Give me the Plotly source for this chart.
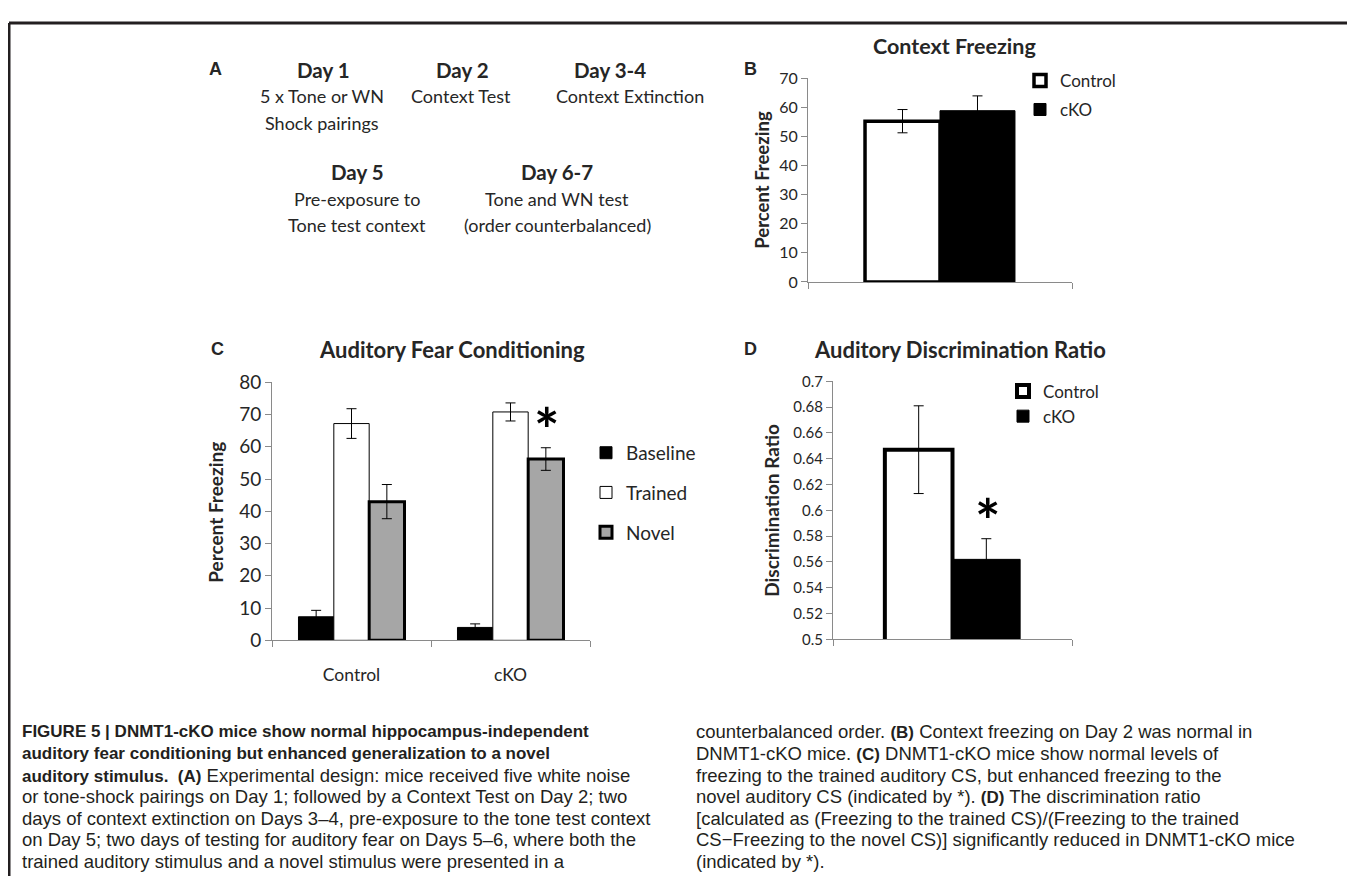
import plotly.graph_objects as go

# Page is 1355x895; the browser adds an 8px body margin, so the figure is sized to fit exactly.
PW, PH = 1355, 895
M = 8
FW, FH = PW - M, PH - 2 * M

# ---------------- data ----------------
# Panel B: Context Freezing
b_groups = ["Control", "cKO"]
b_values = [55.3, 58.9]
b_errors = [4.0, 5.1]

# Panel C: Auditory Fear Conditioning
c_categories = ["Control", "cKO"]
c_series = ["Baseline", "Trained", "Novel"]
c_baseline = [7.3, 4.0]
c_baseline_err = [2.0, 1.1]
c_trained = [67.2, 70.8]
c_trained_err = [4.6, 2.8]
c_novel = [43.0, 56.2]
c_novel_err = [5.3, 3.5]

# Panel D: Auditory Discrimination Ratio
d_groups = ["Control", "cKO"]
d_values = [0.647, 0.562]
d_errors = [0.034, 0.016]

# Panel A: experimental design text
a_blocks = [
    ("Day 1", ["5 x Tone or WN", "Shock pairings"]),
    ("Day 2", ["Context Test"]),
    ("Day 3-4", ["Context Extinction"]),
    ("Day 5", ["Pre-exposure to", "Tone test context"]),
    ("Day 6-7", ["Tone and WN test", "(order counterbalanced)"]),
]

caption_left = [
    "<b>FIGURE 5 | DNMT1-cKO mice show normal hippocampus-independent</b>",
    "<b>auditory fear conditioning but enhanced generalization to a novel</b>",
    "<b>auditory stimulus.  (A)</b> Experimental design: mice received five white noise",
    "or tone-shock pairings on Day 1; followed by a Context Test on Day 2; two",
    "days of context extinction on Days 3–4, pre-exposure to the tone test context",
    "on Day 5; two days of testing for auditory fear on Days 5–6, where both the",
    "trained auditory stimulus and a novel stimulus were presented in a",
]
caption_right = [
    "counterbalanced order. <b>(B)</b> Context freezing on Day 2 was normal in",
    "DNMT1-cKO mice. <b>(C)</b> DNMT1-cKO mice show normal levels of",
    "freezing to the trained auditory CS, but enhanced freezing to the",
    "novel auditory CS (indicated by *). <b>(D)</b> The discrimination ratio",
    "[calculated as (Freezing to the trained CS)/(Freezing to the trained",
    "CS\u2212Freezing to the novel CS)] significantly reduced in DNMT1-cKO mice",
    "(indicated by *).",
]


# ---------------- helpers (page pixel -> paper fraction) ----------------
def px(x):
    return (x - M) / FW


def py(y):
    return 1 - (y - M) / FH


CAL = "Lato, Carlito, 'Open Sans', sans-serif"
CAP = "'Liberation Sans', Arial, sans-serif"
LETTER = "'Liberation Sans', Arial, sans-serif"
AX = "#8a8a8a"
TXT = "#262626"

fig = go.Figure()

# ---------------- Panel B bars ----------------
b_styles = [
    dict(color="white", line=dict(color="black", width=3.5)),
    dict(color="black", line=dict(color="black", width=1)),
]
bw = 0.284
for i, g in enumerate(b_groups):
    fig.add_trace(go.Bar(
        x=["Context"], y=[b_values[i]], name=g,
        marker=b_styles[i], width=bw, offset=-bw if i == 0 else 0,
        error_y=dict(type="data", array=[b_errors[i]], color="black", thickness=1, width=5),
        xaxis="x", yaxis="y", legend="legend", legendgroup="b" + g,
    ))

# ---------------- Panel C bars ----------------
c_vals = [c_baseline, c_trained, c_novel]
c_errs = [c_baseline_err, c_trained_err, c_novel_err]
c_styles = [
    dict(color="black", line=dict(color="black", width=1)),
    dict(color="white", line=dict(color="black", width=1)),
    dict(color="#a6a6a6", line=dict(color="black", width=3)),
]
for s, vals, errs, st in zip(c_series, c_vals, c_errs, c_styles):
    fig.add_trace(go.Bar(
        x=c_categories, y=vals, name=s, marker=st,
        error_y=dict(type="data", array=errs, color="black", thickness=1, width=5),
        xaxis="x2", yaxis="y2", legend="legend2", legendgroup="c" + s,
    ))

# ---------------- Panel D bars ----------------
d_styles = [
    dict(color="white", line=dict(color="black", width=4)),
    dict(color="black", line=dict(color="black", width=1)),
]
dw = 0.283
for i, g in enumerate(d_groups):
    fig.add_trace(go.Bar(
        x=["Ratio"], y=[d_values[i]], name=g,
        marker=d_styles[i], width=dw, offset=-dw if i == 0 else 0,
        error_y=dict(type="data", array=[d_errors[i]], color="black", thickness=1, width=5),
        xaxis="x3", yaxis="y3", legend="legend3", legendgroup="d" + g,
    ))


# ---------------- axes ----------------
def yax(domain, rng, dtick, size, anchor):
    return dict(domain=domain, range=rng, dtick=dtick, anchor=anchor,
                showline=True, linecolor=AX, linewidth=1, ticks="outside",
                tickcolor=AX, ticklen=6, tickwidth=1, showgrid=False, zeroline=False,
                tickfont=dict(family=CAL, size=size, color=TXT), fixedrange=True)


def xax(domain, ncat, anchor, labels):
    return dict(domain=domain, range=[-0.5, ncat - 0.5], anchor=anchor, type="category",
                showline=True, linecolor=AX, linewidth=1, ticks="outside",
                tickson="boundaries", tickcolor=AX, ticklen=6, tickwidth=1,
                showgrid=False, zeroline=False, showticklabels=labels,
                tickfont=dict(family=CAL, size=17.5, color=TXT), ticklabelstandoff=19,
                fixedrange=True)


def leg(x, ytop, size, gap):
    return dict(x=px(x), y=py(ytop), xanchor="left", yanchor="top",
                font=dict(family=CAL, size=size, color=TXT), bgcolor="rgba(0,0,0,0)",
                tracegroupgap=gap)


fig.update_layout(
    width=FW, height=FH,
    margin=dict(l=0, r=0, t=0, b=0),
    paper_bgcolor="white", plot_bgcolor="white",
    barmode="group", bargap=0.333, bargroupgap=0,
    xaxis=xax([px(808), px(1072)], 1, "y", False),
    yaxis=yax([py(277), py(68)], [0, 70], 10, 16, "x"),
    xaxis2=xax([px(272), px(590)], 2, "y2", True),
    yaxis2=yax([py(645), py(380)], [0, 80], 10, 19, "x2"),
    xaxis3=xax([px(833), px(1072)], 1, "y3", False),
    yaxis3=yax([py(644), py(379)], [0.5, 0.7], 0.02, 15, "x3"),
    legend=leg(1020, 52, 17, 4),
    legend2=leg(586, 433, 19, 12),
    legend3=leg(1003, 371, 17, 0),
    showlegend=True,
)

ann = []


def text(x, y, t, size, family=CAL, bold=False, xanchor="center", angle=0, color=TXT):
    ann.append(dict(x=px(x), y=py(y), xref="paper", yref="paper", showarrow=False,
                    text=("<b>%s</b>" % t) if bold else t, xanchor=xanchor, yanchor="middle",
                    textangle=angle, font=dict(family=family, size=size, color=color)))


# Panel A
text(216, 58, "A", 18, family=LETTER, bold=True)
a_pos = [(323, 59), (462, 59), (610, 59), (357, 164), (557, 164)]
a_line_x = [322, 461, 630, 357, 557]
for (head, lines), (x, y), lx in zip(a_blocks, a_pos, a_line_x):
    text(x, y, head, 20.5, bold=True)
    for k, ln in enumerate(lines):
        text(lx, y + 27.5 * (k + 1), ln, 18)

# Panel titles and letters
text(954, 35, "Context Freezing", 21.5, bold=True)
text(750, 58, "B", 18, family=LETTER, bold=True)
text(452, 346, "Auditory Fear Conditioning", 22, bold=True)
text(217, 346, "C", 18, family=LETTER, bold=True)
text(960, 346, "Auditory Discrimination Ratio", 22, bold=True)
text(750, 346, "D", 18, family=LETTER, bold=True)

# Axis titles
text(762, 172, "Percent Freezing", 18.5, bold=True, angle=-90)
text(216, 513, "Percent Freezing", 19, bold=True, angle=-90)
text(772, 512, "Discrimination Ratio", 19, bold=True, angle=-90)

# Significance asterisks
text(547, 428, "*", 60, bold=True, color="black")
text(988, 521, "*", 60, bold=True, color="black")

# Caption
BSPAN = "<span style='font-size:17px'>"


def cap_fmt(s):
    return s.replace("<b>", BSPAN + "<b>").replace("</b>", "</b></span>")


for k, ln in enumerate(caption_left):
    text(20, 739 + 22.2 * k, cap_fmt(ln), 18.5, family=CAP, xanchor="left", color="#231f20")
for k, ln in enumerate(caption_right):
    text(694, 739 + 22.2 * k, cap_fmt(ln), 18.5, family=CAP, xanchor="left", color="#231f20")

fig.update_layout(annotations=ann)

# Figure frame
frame = dict(color="#231f20", width=3)
fig.update_layout(shapes=[
    dict(type="line", xref="paper", yref="paper", x0=px(9), x1=px(1354), y0=py(11), y1=py(11), line=frame),
    dict(type="line", xref="paper", yref="paper", x0=px(9), x1=px(9), y0=py(11), y1=0, line=frame),
    dict(type="line", xref="paper", yref="paper", x0=px(1353), x1=px(1353), y0=py(11), y1=0, line=frame),
])

fig.write_html("out.html")
